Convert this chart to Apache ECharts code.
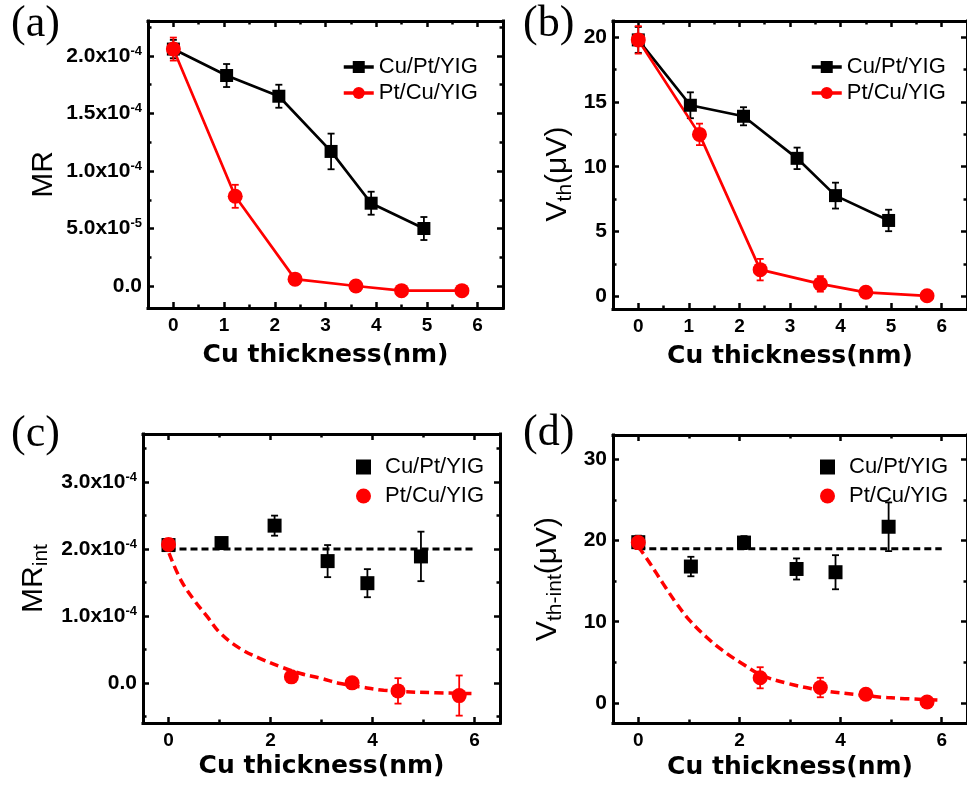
<!DOCTYPE html>
<html>
<head>
<meta charset="utf-8">
<script src="https://cdn.jsdelivr.net/npm/echarts@6/dist/echarts.min.js"></script>
<style>
html, body { margin: 0; padding: 0; background: #fff; }
#main { width: 967px; height: 786px; }
</style>
</head>
<body>
<div id="main"></div>
<script>
// ---- (a) MR vs Cu thickness
const aCuX = [0, 1.05, 2.08, 3.11, 3.9, 4.94];
const aCuY = [2.06e-4, 1.83e-4, 1.65e-4, 1.17e-4, 0.72e-4, 0.50e-4];
const aCuE = [0.08e-4, 0.10e-4, 0.10e-4, 0.155e-4, 0.10e-4, 0.10e-4];
const aPtX = [0, 1.22, 2.4, 3.6, 4.5, 5.69];
const aPtY = [2.06e-4, 0.78e-4, 0.06e-4, 0.0, -0.04e-4, -0.04e-4];
const aPtE = [0.10e-4, 0.10e-4, 0.04e-4, 0.03e-4, 0.02e-4, 0.02e-4];

// ---- (b) Vth vs Cu thickness
const bCuX = [0, 1.03, 2.08, 3.14, 3.9, 4.95];
const bCuY = [19.8, 14.75, 13.9, 10.65, 7.77, 5.85];
const bCuE = [1.0, 1.0, 0.7, 0.83, 1.0, 0.83];
const bPtX = [0, 1.21, 2.41, 3.6, 4.5, 5.71];
const bPtY = [19.8, 12.5, 2.05, 0.95, 0.3, 0.03];
const bPtE = [1.06, 0.83, 0.83, 0.6, 0.2, 0.15];

// ---- (c) MR_int
const cCuX = [0, 1.04, 2.08, 3.12, 3.9, 4.95];
const cCuY = [2.06e-4, 2.09e-4, 2.35e-4, 1.82e-4, 1.49e-4, 1.89e-4];
const cCuE = [0.05e-4, 0.07e-4, 0.15e-4, 0.24e-4, 0.21e-4, 0.37e-4];
const cPtX = [0, 2.41, 3.6, 4.5, 5.7];
const cPtY = [2.07e-4, 0.09e-4, 0.0, -0.12e-4, -0.19e-4];
const cPtE = [0.05e-4, 0.05e-4, 0.06e-4, 0.19e-4, 0.30e-4];
const cFlatX = [0, 6];
const cFlatY = [2.0e-4, 2.0e-4];
const cFitX = [0.01, 0.24, 0.5, 0.76, 1.02, 1.41, 1.81, 2.2, 2.59, 2.98, 3.37, 3.76, 4.22, 4.87, 5.98];
const cFitY = [1.94e-4, 1.54e-4, 1.24e-4, 0.99e-4, 0.74e-4, 0.51e-4, 0.36e-4, 0.24e-4, 0.14e-4, 0.07e-4, -0.01e-4, -0.06e-4, -0.11e-4, -0.14e-4, -0.16e-4];

// ---- (d) Vth_int
const dCuX = [0, 1.04, 2.09, 3.13, 3.9, 4.95];
const dCuY = [19.8, 16.8, 19.75, 16.5, 16.1, 21.7];
const dCuE = [0.8, 1.2, 0.8, 1.3, 2.1, 3.0];
const dPtX = [0, 2.41, 3.6, 4.5, 5.71];
const dPtY = [19.75, 3.1, 1.9, 1.07, 0.12];
const dPtE = [0.8, 1.3, 1.2, 0.3, 0.2];
const dFlatX = [0, 6];
const dFlatY = [19, 19];
const dFitX = [0, 0.23, 0.49, 0.75, 1.01, 1.34, 1.66, 2.05, 2.44, 2.96, 3.61, 4.27, 4.92, 6.0];
const dFitY = [19.26, 17.2, 14.7, 12.3, 10.2, 8.15, 6.5, 4.86, 3.42, 2.4, 1.57, 1.07, 0.66, 0.33];

// ---- ticks
const xTicksAB = [0, 1, 2, 3, 4, 5, 6];
const xMinorAB = [0.5, 1.5, 2.5, 3.5, 4.5, 5.5];
const xTicksCD = [0, 2, 4, 6];
const xMinorCD = [1, 3, 5];
const aYTicks = [0, 0.5e-4, 1.0e-4, 1.5e-4, 2.0e-4];
const aYLabels = [['0.0', ''], ['5.0x10', '-5'], ['1.0x10', '-4'], ['1.5x10', '-4'], ['2.0x10', '-4']];
const aYMinor = [0.25e-4, 0.75e-4, 1.25e-4, 1.75e-4, 2.25e-4];
const bYTicks = [0, 5, 10, 15, 20];
const bYMinor = [2.5, 7.5, 12.5, 17.5];
const cYTicks = [0, 1.0e-4, 2.0e-4, 3.0e-4];
const cYLabels = [['0.0', ''], ['1.0x10', '-4'], ['2.0x10', '-4'], ['3.0x10', '-4']];
const cYMinor = [-0.5e-4, 0.5e-4, 1.5e-4, 2.5e-4, 3.5e-4];
const dYTicks = [0, 10, 20, 30];
const dYMinor = [5, 15, 25];

const SANS = 'Liberation Sans';
const BOLD_X = 'DejaVu Sans';
const RED = '#ff0000';

const tickRich = {
  m: { fontFamily: SANS, fontSize: 21, fontWeight: 'bold', color: '#000', lineHeight: 23 },
  s: { fontFamily: SANS, fontSize: 13, fontWeight: 'bold', color: '#000', lineHeight: 12, verticalAlign: 'top' }
};
const nameRich = {
  v: { fontFamily: SANS, fontSize: 30, color: '#000', lineHeight: 36 },
  sub: { fontFamily: SANS, fontSize: 21, color: '#000', lineHeight: 16, verticalAlign: 'bottom' }
};

function sciFormatter(ticks, labels) {
  return function (v) {
    for (let i = 0; i < ticks.length; i++) {
      if (Math.abs(ticks[i] - v) < 1e-9) {
        const l = labels[i];
        return l[1] ? '{m|' + l[0] + '}{s|' + l[1] + '}' : '{m|' + l[0] + '}';
      }
    }
    return '';
  };
}

const xAxes = [];
const yAxes = [];

// four-sided frame with inward major + minor ticks
function addPanel(g, p) {
  const xi = xAxes.length, yi = yAxes.length;
  const line = { show: true, onZero: false, lineStyle: { color: '#000', width: 3, cap: 'square' } };
  const noLine = { show: false, onZero: false };
  const major = vals => ({ show: true, inside: true, length: 6, customValues: vals, lineStyle: { color: '#000', width: 2.5 } });
  const minor = vals => ({ show: true, inside: true, length: 3.5, customValues: vals, lineStyle: { color: '#000', width: 2.5 } });
  const xb = { gridIndex: g, type: 'value', min: p.xMin, max: p.xMax, splitLine: { show: false } };
  const yb = { gridIndex: g, type: 'value', min: p.yMin, max: p.yMax, splitLine: { show: false } };

  xAxes.push(Object.assign({}, xb, {
    position: 'bottom', axisLine: line, axisTick: major(p.xTicks),
    axisLabel: { customValues: p.xTicks, margin: 8, color: '#000', fontFamily: SANS, fontSize: 19, fontWeight: 'bold' },
    name: 'Cu thickness(nm)', nameLocation: 'middle', nameGap: p.xGap,
    nameTextStyle: { fontFamily: BOLD_X, fontSize: 25, fontWeight: 'bold', color: '#000' }
  }));
  xAxes.push(Object.assign({}, xb, { position: 'bottom', axisLine: noLine, axisTick: minor(p.xMinor), axisLabel: { show: false } }));
  xAxes.push(Object.assign({}, xb, { position: 'top', axisLine: line, axisTick: major(p.xTicks), axisLabel: { show: false } }));
  xAxes.push(Object.assign({}, xb, { position: 'top', axisLine: noLine, axisTick: minor(p.xMinor), axisLabel: { show: false } }));

  const yLabel = { customValues: p.yTicks, margin: 6, color: '#000', fontFamily: SANS, fontSize: 21, fontWeight: 'bold' };
  if (p.yFmt) { yLabel.formatter = p.yFmt; yLabel.rich = tickRich; }
  yAxes.push(Object.assign({}, yb, {
    position: 'left', axisLine: line, axisTick: major(p.yTicks), axisLabel: yLabel,
    name: p.yName, nameLocation: 'middle', nameGap: p.yGap,
    nameTextStyle: { rich: nameRich, padding: p.namePad || 0 }
  }));
  yAxes.push(Object.assign({}, yb, { position: 'left', axisLine: noLine, axisTick: minor(p.yMinor), axisLabel: { show: false } }));
  yAxes.push(Object.assign({}, yb, { position: 'right', axisLine: line, axisTick: major(p.yTicks), axisLabel: { show: false } }));
  yAxes.push(Object.assign({}, yb, { position: 'right', axisLine: noLine, axisTick: minor(p.yMinor), axisLabel: { show: false } }));
  return { xi: xi, yi: yi };
}

const pa = addPanel(0, { xMin: -0.5, xMax: 6.5, yMin: -0.191e-4, yMax: 2.304e-4, xTicks: xTicksAB, xMinor: xMinorAB,
  yTicks: aYTicks, yMinor: aYMinor, yFmt: sciFormatter(aYTicks, aYLabels), yName: '{v|MR}', yGap: 86, xGap: 35, namePad: [0, 20, 0, 0] });
const pb = addPanel(1, { xMin: -0.5, xMax: 6.5, yMin: -0.99, yMax: 21.26, xTicks: xTicksAB, xMinor: xMinorAB,
  yTicks: bYTicks, yMinor: bYMinor, yName: '{v|V}{sub|th}{v|(μV)}', yGap: 37, xGap: 35, namePad: [0, 18, 0, 0] });
const pc = addPanel(2, { xMin: -0.5, xMax: 6.5, yMin: -0.6e-4, yMax: 3.72e-4, xTicks: xTicksCD, xMinor: xMinorCD,
  yTicks: cYTicks, yMinor: cYMinor, yFmt: sciFormatter(cYTicks, cYLabels), yName: '{v|MR}{sub|int}', yGap: 91, xGap: 31 });
const pd = addPanel(3, { xMin: -0.5, xMax: 6.5, yMin: -2.47, yMax: 33.0, xTicks: xTicksCD, xMinor: xMinorCD,
  yTicks: dYTicks, yMinor: dYMinor, yName: '{v|V}{sub|th-int}{v|(μV)}', yGap: 47, xGap: 32 });

function zip(xs, ys) { return xs.map((x, i) => [x, ys[i]]); }

function lineSeries(name, p, xs, ys, color, symbol, size) {
  return { name: name, type: 'line', xAxisIndex: p.xi, yAxisIndex: p.yi, data: zip(xs, ys),
    symbol: symbol, symbolSize: size, lineStyle: { color: color, width: 2.7 }, itemStyle: { color: color },
    z: 3, animation: false };
}
function scatterSeries(name, p, xs, ys, color, symbol, size) {
  return { name: name, type: 'scatter', xAxisIndex: p.xi, yAxisIndex: p.yi, data: zip(xs, ys),
    symbol: symbol, symbolSize: size, itemStyle: { color: color, opacity: 1 }, z: 3, animation: false };
}
function dashSeries(p, xs, ys, color, width, dash, smooth) {
  return { type: 'line', xAxisIndex: p.xi, yAxisIndex: p.yi, data: zip(xs, ys), symbol: 'none', smooth: smooth,
    lineStyle: { color: color, width: width, type: dash }, z: 2, animation: false, silent: true };
}
function errSeries(p, xs, ys, es, color) {
  return {
    type: 'custom', xAxisIndex: p.xi, yAxisIndex: p.yi, z: 2, silent: true, animation: false,
    data: xs.map((x, i) => [x, ys[i], es[i]]),
    encode: { x: 0, y: 1 },
    renderItem: function (params, api) {
      const x = api.value(0), y = api.value(1), e = api.value(2);
      const t = api.coord([x, y + e]), b = api.coord([x, y - e]);
      const w = 3.5, st = { stroke: color, lineWidth: 1.8 };
      return { type: 'group', children: [
        { type: 'line', shape: { x1: t[0], y1: t[1], x2: b[0], y2: b[1] }, style: st },
        { type: 'line', shape: { x1: t[0] - w, y1: t[1], x2: t[0] + w, y2: t[1] }, style: st },
        { type: 'line', shape: { x1: b[0] - w, y1: b[1], x2: b[0] + w, y2: b[1] }, style: st }
      ] };
    }
  };
}

const series = [
  errSeries(pa, aCuX, aCuY, aCuE, '#000'),
  lineSeries('Cu/Pt/YIG|a', pa, aCuX, aCuY, '#000', 'rect', 13),
  errSeries(pa, aPtX, aPtY, aPtE, RED),
  lineSeries('Pt/Cu/YIG|a', pa, aPtX, aPtY, RED, 'circle', 15),

  errSeries(pb, bCuX, bCuY, bCuE, '#000'),
  lineSeries('Cu/Pt/YIG|b', pb, bCuX, bCuY, '#000', 'rect', 13),
  errSeries(pb, bPtX, bPtY, bPtE, RED),
  lineSeries('Pt/Cu/YIG|b', pb, bPtX, bPtY, RED, 'circle', 15),

  dashSeries(pc, cFlatX, cFlatY, '#000', 3, [7, 4], false),
  dashSeries(pc, cFitX, cFitY, RED, 3.5, [9, 5], 0.4),
  errSeries(pc, cCuX, cCuY, cCuE, '#000'),
  scatterSeries('Cu/Pt/YIG|c', pc, cCuX, cCuY, '#000', 'rect', 14),
  errSeries(pc, cPtX, cPtY, cPtE, RED),
  scatterSeries('Pt/Cu/YIG|c', pc, cPtX, cPtY, RED, 'circle', 15),

  dashSeries(pd, dFlatX, dFlatY, '#000', 3, [7, 4], false),
  dashSeries(pd, dFitX, dFitY, RED, 3.5, [9, 5], 0.4),
  errSeries(pd, dCuX, dCuY, dCuE, '#000'),
  scatterSeries('Cu/Pt/YIG|d', pd, dCuX, dCuY, '#000', 'rect', 14),
  errSeries(pd, dPtX, dPtY, dPtE, RED),
  scatterSeries('Pt/Cu/YIG|d', pd, dPtX, dPtY, RED, 'circle', 15)
];

function legend(tag, left, top, iw, ih, gap, pad) {
  return {
    orient: 'vertical', left: left, top: top, itemWidth: iw, itemHeight: ih, itemGap: gap,
    selectedMode: false, data: ['Cu/Pt/YIG|' + tag, 'Pt/Cu/YIG|' + tag],
    formatter: n => n.split('|')[0],
    lineStyle: { width: 3.5 },
    textStyle: { fontFamily: SANS, fontSize: 22, color: '#000', lineHeight: 24, padding: pad }
  };
}

function panelLabel(text, left, top) {
  return { type: 'text', left: left, top: top, z: 10,
    style: { text: text, font: '44px "Liberation Serif"', fill: '#000' } };
}

const chart = echarts.init(document.getElementById('main'));
chart.setOption({
  backgroundColor: '#fff',
  animation: false,
  grid: [
    { left: 148, top: 21, width: 355, height: 287 },
    { left: 613, top: 21, width: 357, height: 288 },
    { left: 143, top: 434, width: 357, height: 289 },
    { left: 613, top: 435, width: 357, height: 288 }
  ],
  xAxis: xAxes,
  yAxis: yAxes,
  legend: [
    legend('a', 337, 50, 30, 15, 2, 0),
    legend('b', 805, 50, 30, 15, 2, 0),
    legend('c', 351, 450, 15, 15, 5, [0, 0, 0, 9]),
    legend('d', 815, 450, 15, 15, 5, [0, 0, 0, 9])
  ],
  graphic: [
    panelLabel('(a)', 11, 2),
    panelLabel('(b)', 523, 2),
    panelLabel('(c)', 11, 412),
    panelLabel('(d)', 523, 411)
  ],
  series: series
});
</script>
</body>
</html>
